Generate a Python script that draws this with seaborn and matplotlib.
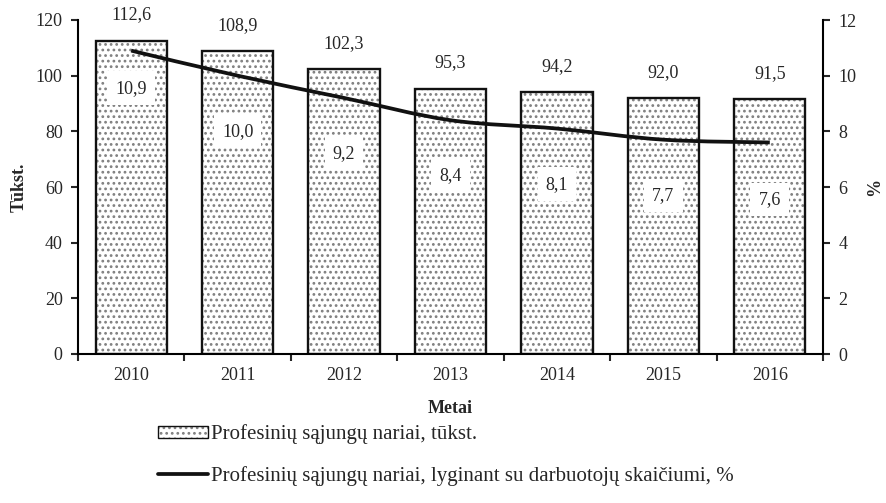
import matplotlib
matplotlib.use("Agg")
import matplotlib.pyplot as plt
import seaborn as sns
import pandas as pd
import numpy as np
from matplotlib.path import Path
from matplotlib.patches import PathPatch, Patch
from matplotlib.lines import Line2D
from matplotlib.legend_handler import HandlerTuple

years = ["2010", "2011", "2012", "2013", "2014", "2015", "2016"]
members = [112.6, 108.9, 102.3, 95.3, 94.2, 92.0, 91.5]
share = [10.9, 10.0, 9.2, 8.4, 8.1, 7.7, 7.6]
bar_label = "Profesinių sąjungų nariai, tūkst."
line_label = "Profesinių sąjungų nariai, lyginant su darbuotojų skaičiumi, %"

sns.set_theme(style="white")
plt.rcParams["font.family"] = ["Liberation Serif", "DejaVu Serif"]
plt.rcParams["hatch.linewidth"] = 1.2
FS = 13
LFS = 15
HATCH = "..."
HATCH_COLOR = "#7f7f7f"

df = pd.DataFrame({"year": years, "members": members, "share": share})

fig = plt.figure(figsize=(8.86, 5.03), dpi=100)
ax = fig.add_axes([78 / 886, 1 - 354 / 503, (823 - 78) / 886, (354 - 20) / 503])

# hatched fill, then a crisp black outline on top
sns.barplot(data=df, x="year", y="members", ax=ax, color="white", width=0.67,
            edgecolor=HATCH_COLOR, linewidth=0, hatch=HATCH, zorder=1)
sns.barplot(data=df, x="year", y="members", ax=ax, fill=False, width=0.67,
            edgecolor="#111111", linewidth=1.7, zorder=2)

ax.set_ylim(0, 120)
ax.set_xlim(-0.5, 6.5)
ax.set_yticks(range(0, 121, 20))
ax.set_xticks(range(len(years)))
ax.set_xticklabels(years)
ax.set_xticks(np.arange(-0.5, 7, 1), minor=True)
ax.tick_params(axis="x", which="major", length=0, pad=9, labelsize=FS)
ax.tick_params(axis="x", which="minor", length=5, width=1.5, direction="out", bottom=True)
ax.tick_params(axis="y", length=5, width=1.5, direction="out", left=True, labelsize=FS, pad=6)
for s in ["top", "right"]:
    ax.spines[s].set_visible(False)
for s in ["left", "bottom"]:
    ax.spines[s].set_linewidth(1.5)
    ax.spines[s].set_color("black")
ax.set_xlabel("Metai", fontsize=FS, fontweight="bold", labelpad=12)
ax.set_ylabel("Tūkst.", fontsize=FS, fontweight="bold", labelpad=6)

for i, v in enumerate(members):
    ax.annotate(f"{v:.1f}".replace(".", ","), (i, v), xytext=(0, 18.5),
                textcoords="offset points", ha="center", va="center", fontsize=FS)

ax2 = ax.twinx()
ax2.set_ylim(0, 12)
ax2.set_yticks(range(0, 13, 2))
ax2.tick_params(axis="y", length=5, width=1.5, direction="out", right=True, labelsize=FS, pad=6)
for s in ["top", "left", "bottom"]:
    ax2.spines[s].set_visible(False)
ax2.spines["right"].set_linewidth(1.5)
ax2.spines["right"].set_color("black")
ax2.set_ylabel("%", fontsize=FS, fontweight="bold", labelpad=7)

# smooth curve through the share values (Catmull-Rom as cubic Bezier)
xs = np.arange(len(share), dtype=float)
ys = np.array(share)
verts = [(xs[0], ys[0])]
codes = [Path.MOVETO]
for k in range(len(xs) - 1):
    p0 = np.array([xs[max(k - 1, 0)], ys[max(k - 1, 0)]])
    p1 = np.array([xs[k], ys[k]])
    p2 = np.array([xs[k + 1], ys[k + 1]])
    p3 = np.array([xs[min(k + 2, len(xs) - 1)], ys[min(k + 2, len(xs) - 1)]])
    c1 = p1 + (p2 - p0) / 6
    c2 = p2 - (p3 - p1) / 6
    verts += [tuple(c1), tuple(c2), tuple(p2)]
    codes += [Path.CURVE4] * 3
ax2.add_patch(PathPatch(Path(verts, codes), facecolor="none", edgecolor="#111111",
                        lw=2.7, capstyle="butt", joinstyle="round", zorder=3))

offsets = [-27, -40, -40, -40, -40, -40, -41]
for i, v in enumerate(share):
    ax2.annotate(f"{v:.1f}".replace(".", ","), (i, v), xytext=(0, offsets[i]),
                 textcoords="offset points", ha="center", va="center", fontsize=FS,
                 bbox=dict(boxstyle="square,pad=0.45", fc="white", ec="none"), zorder=4)

swatch = (Patch(facecolor="white", edgecolor=HATCH_COLOR, hatch=HATCH, lw=0),
          Patch(facecolor="none", edgecolor="#111111", lw=1.0))
handles = [swatch, Line2D([0], [0], color="#111111", lw=2.7)]
fig.legend(handles, [bar_label, line_label], loc="upper left",
           bbox_to_anchor=(150 / 886, 1 - 416 / 503), frameon=False,
           fontsize=LFS, handlelength=2.4, handleheight=0.5, handletextpad=0.15,
           labelspacing=1.05, borderaxespad=0,
           handler_map={tuple: HandlerTuple(ndivide=1, pad=0)})

fig.savefig("out.png", dpi=100)
